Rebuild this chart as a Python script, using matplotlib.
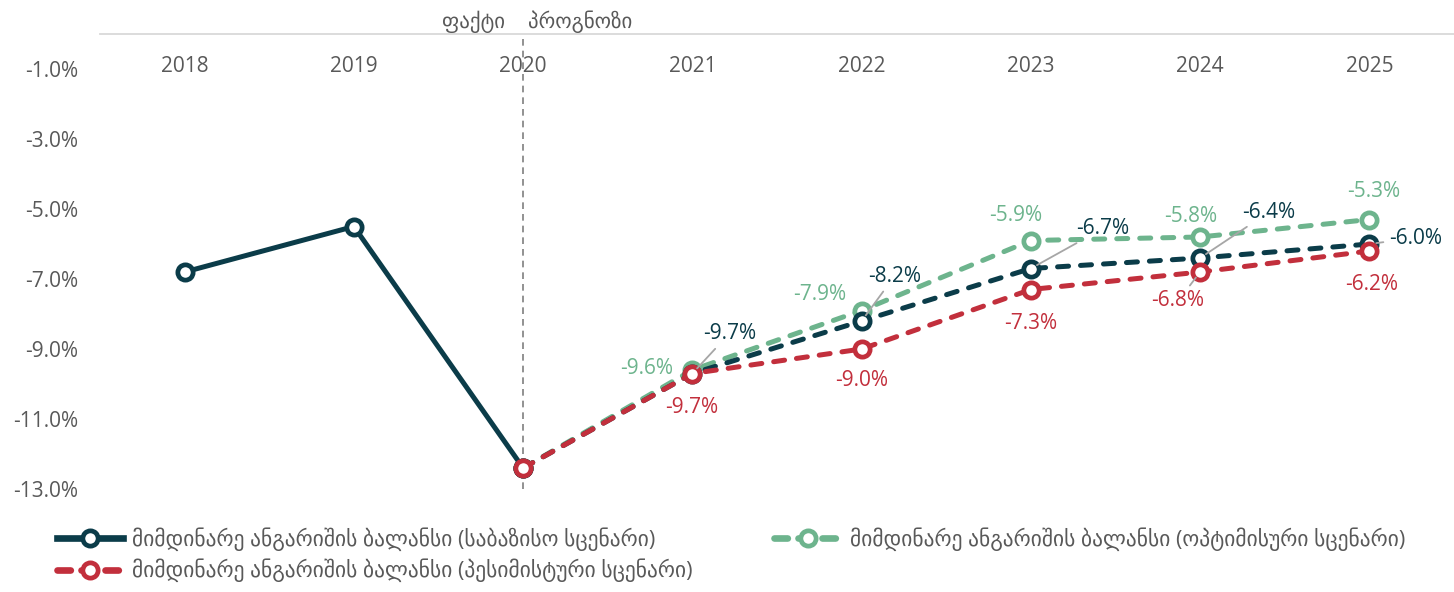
import matplotlib.pyplot as plt
from matplotlib.lines import Line2D

plt.rcParams['font.family'] = ['Open Sans', 'DejaVu Sans']

# Data (% of GDP)
years = ['2018', '2019', '2020', '2021', '2022', '2023', '2024', '2025']
base_fact = [-6.8, -5.5, -12.4]
base_fcst = [-12.4, -9.7, -8.2, -6.7, -6.4, -6.0]
optimistic = [-12.4, -9.6, -7.9, -5.9, -5.8, -5.3]
pessimistic = [-12.4, -9.7, -9.0, -7.3, -6.8, -6.2]

label_base = 'მიმდინარე ანგარიშის ბალანსი (საბაზისო სცენარი)'
label_opt = 'მიმდინარე ანგარიშის ბალანსი (ოპტიმისური სცენარი)'
label_pess = 'მიმდინარე ანგარიშის ბალანსი (პესიმისტური სცენარი)'

c_base = '#0B3C49'
c_opt = '#6DB48D'
c_pess = '#C22F3C'
c_text = '#595959'
c_lead = '#A6A6A6'

x_fact = list(range(0, 3))
x_fcst = list(range(2, 8))

fig = plt.figure(figsize=(14.54, 5.92), dpi=100)
ax = fig.add_axes([100 / 1454, 1 - 524 / 592, 1354 / 1454, 490 / 592])

mk = dict(marker='o', markersize=11, markerfacecolor='white', markeredgewidth=3.4)
dash = dict(linestyle=(0, (2.2, 2.4)), dash_capstyle='round')
lw = 3.6

ax.plot(x_fcst, optimistic, color=c_opt, lw=lw, markeredgecolor=c_opt, zorder=3, **mk, **dash)
ax.plot(x_fcst, base_fcst, color=c_base, lw=lw, markeredgecolor=c_base, zorder=4, **mk, **dash)
ax.plot(x_fact, base_fact, color=c_base, lw=lw, markeredgecolor=c_base, zorder=4, **mk)
ax.plot(x_fcst, pessimistic, color=c_pess, lw=lw, markeredgecolor=c_pess, zorder=5, **mk, **dash)

# data labels: offsets in pixels (dx right, dy down)
off_base = [None, (37, -40), (33, -45), (72, -40), (69, -46), (46, -6)]
off_opt = [None, (-46, -2), (-42, -16), (-15, -25), (-9, -21), (4, -28)]
off_pess = [None, (-1, 34), (0, 32), (0, 34), (-22, 29), (2, 33)]
lead_base = [False, True, True, True, True, True]
lead_pess = [False, False, False, False, True, False]


def put_labels(vals, offs, color, leads=None):
    for i, (v, o) in enumerate(zip(vals, offs)):
        if o is None:
            continue
        arrow = None
        if leads is not None and leads[i]:
            arrow = dict(arrowstyle='-', color=c_lead, lw=1.3, shrinkA=2, shrinkB=5)
        ax.annotate(f'{v:.1f}%', (x_fcst[i], v), xytext=(o[0] * 0.72, -o[1] * 0.72),
                    textcoords='offset points', ha='center', va='center',
                    fontsize=15, color=color, arrowprops=arrow, zorder=6)


put_labels(base_fcst, off_base, c_base, lead_base)
put_labels(optimistic, off_opt, c_opt)
put_labels(pessimistic, off_pess, c_pess, lead_pess)

# fact / forecast split
ax.vlines(2, -13.0, 0, colors='#7F7F7F', linestyles=(0, (4, 3)), lw=1.2, zorder=1)
ax.text(1.89, 0.36, 'ფაქტი', ha='right', va='center', fontsize=15, color=c_text)
ax.text(2.03, 0.36, 'პროგნოზი', ha='left', va='center', fontsize=15, color=c_text)

ax.set_xlim(-0.5, 7.5)
ax.set_ylim(-14, 0)
ax.set_yticks([-13, -11, -9, -7, -5, -3, -1])
ax.set_yticklabels([f'{t:.1f}%' for t in [-13, -11, -9, -7, -5, -3, -1]])
ax.set_xticks(range(len(years)))
ax.set_xticklabels(years)
ax.xaxis.tick_top()
ax.tick_params(axis='x', length=0, pad=-31, labelsize=15, labelcolor=c_text)
ax.tick_params(axis='y', length=0, pad=16, labelsize=15, labelcolor=c_text)

for s in ['left', 'right', 'bottom']:
    ax.spines[s].set_visible(False)
ax.spines['top'].set_color('#D9D9D9')
ax.spines['top'].set_linewidth(1.3)
ax.patch.set_alpha(0)

h_base = Line2D([], [], color=c_base, lw=4.8, marker='o', markersize=11,
                markerfacecolor='white', markeredgecolor=c_base, markeredgewidth=3.4)
h_opt = Line2D([], [], color=c_opt, lw=4.8, marker='o', markersize=11,
               markerfacecolor='white', markeredgecolor=c_opt, markeredgewidth=3.4,
               linestyle=(0, (2.0, 1.6)), dash_capstyle='round')
h_pess = Line2D([], [], color=c_pess, lw=4.8, marker='o', markersize=11,
                markerfacecolor='white', markeredgecolor=c_pess, markeredgewidth=3.4,
                linestyle=(0, (2.0, 1.6)), dash_capstyle='round')
leg = fig.legend([h_base, h_pess, h_opt], [label_base, label_pess, label_opt],
                 ncol=2, loc='lower left', bbox_to_anchor=(47 / 1454, 0.0),
                 frameon=False, fontsize=15.5, handlelength=3.1, handletextpad=0.4,
                 columnspacing=3.8, labelspacing=0.35, labelcolor=c_text,
                 borderaxespad=0.05)

fig.savefig('out.png', dpi=100)
